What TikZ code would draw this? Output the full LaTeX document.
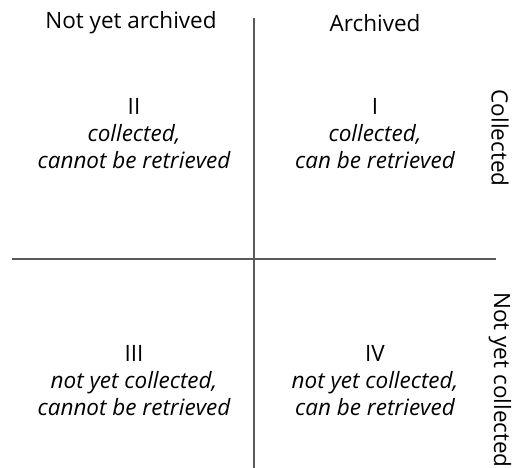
\documentclass[tikz,border=0pt]{standalone}
\usepackage{fontspec}
\setmainfont{Open Sans}
\begin{document}
\begin{tikzpicture}[x=1pt,y=-1pt,
  axis/.style={draw=black!65,line width=1.3pt},
  lbl/.style={font=\fontsize{22.5}{27}\selectfont,inner sep=0pt},
  quad/.style={font=\fontsize{22.5}{27}\selectfont,align=center,inner sep=0pt}]
\useasboundingbox (0,0) rectangle (512,468);
\clip (0,0) rectangle (512,468);
\coordinate (vt) at (254,18);
\coordinate (vb) at (254,470);
\coordinate (hl) at (12,259);
\coordinate (hr) at (496,259);
\draw[axis] (vt) -- (vb);
\draw[axis] (hl) -- (hr);
\node[lbl] (nya) at (131,23) {Not yet archived};
\node[lbl] (arc) at (375,23) {Archived};
\node[lbl,rotate=-90] (col) at (500,138) {Collected};
\node[lbl,rotate=-90] (nyc) at (500,380) {Not yet collected};
\node[quad] (q2) at (134,134) {II\\\itshape collected,\\\itshape cannot be retrieved};
\node[quad] (q1) at (375,134) {I\\\itshape collected,\\\itshape can be retrieved};
\node[quad] (q3) at (134,381) {III\\\itshape not yet collected,\\\itshape cannot be retrieved};
\node[quad] (q4) at (375,381) {IV\\\itshape not yet collected,\\\itshape can be retrieved};
\end{tikzpicture}
\end{document}
